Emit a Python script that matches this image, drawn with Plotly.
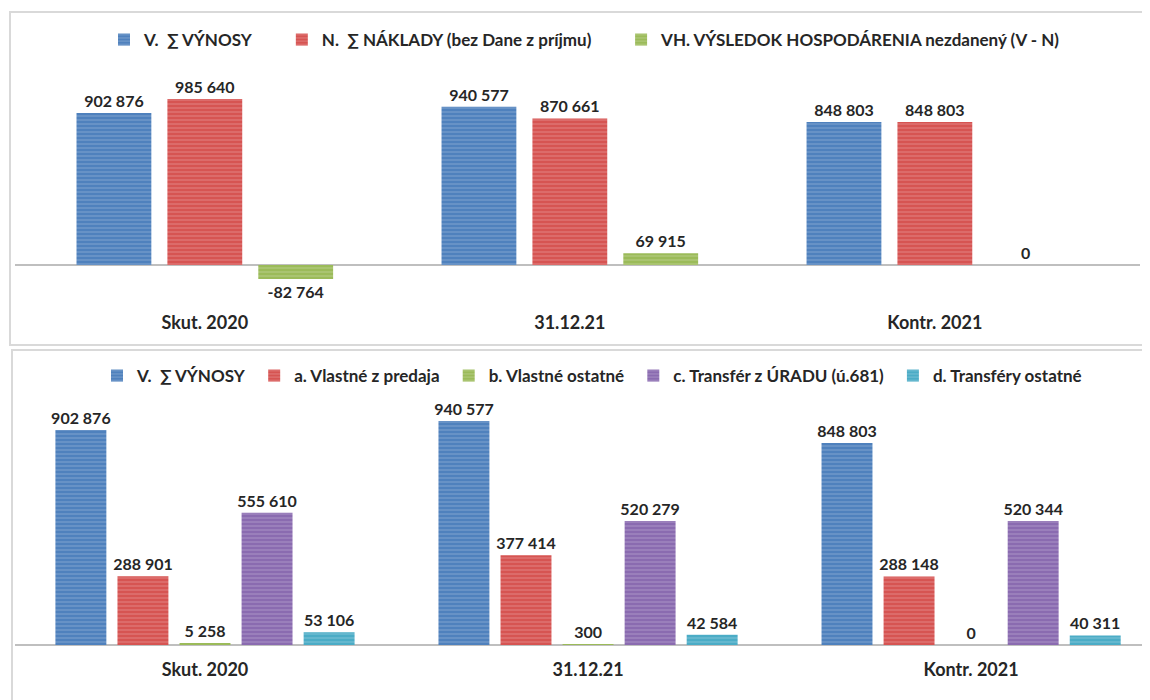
import plotly.graph_objects as go
from plotly.subplots import make_subplots

# categories
periods = ['Skut. 2020', '31.12.21', 'Kontr. 2021']

# top chart series
vynosy = [902876, 940577, 848803]
naklady = [985640, 870661, 848803]
vysledok = [-82764, 69915, 0]

# bottom chart series
vlastne_predaj = [288901, 377414, 288148]
vlastne_ostatne = [5258, 300, 0]
transfer_urad = [555610, 520279, 520344]
transfery_ostatne = [53106, 42584, 40311]

top_names = ['V.  \u2211 V\u00ddNOSY', 'N.  \u2211 N\u00c1KLADY (bez Dane z pr\u00edjmu)',
             'VH. V\u00ddSLEDOK HOSPOD\u00c1RENIA nezdanen\u00fd (V - N)']
bottom_names = ['V.  \u2211 V\u00ddNOSY', 'a. Vlastn\u00e9 z predaja', 'b. Vlastn\u00e9 ostatn\u00e9',
                'c. Transf\u00e9r z \u00daRADU (\u00fa.681)', 'd. Transf\u00e9ry ostatn\u00e9']

blue = '#4f81bd'
red = '#d65452'
green = '#9bbb59'
purple = '#8a6bb0'
cyan = '#4bacc6'

FONT = 'Lato, Open Sans, sans-serif'
TXT = '#262626'

# the page puts the plot 8px in from the window corner, shift everything back
OFF = 8
W, H = 1150, 700


def px_x(p):
    return (p - OFF) / W


def px_y(p):
    return (H - (p - OFF)) / H


fig = make_subplots(rows=2, cols=1)


def add_bars(values, names, colors, row, width, pitch, legend, pad):
    n = len(values)
    start = -n / 2 * pitch + (pitch - width) / 2
    for i, (vals, name, col) in enumerate(zip(values, names, colors)):
        fig.add_trace(go.Bar(
            x=periods, y=vals, name=name + '\u00a0' * pad + '\u200b',
            width=width, offset=start + i * pitch,
            marker=dict(color=col, line=dict(width=0),
                        pattern=dict(shape='-', fgcolor='rgba(255,255,255,0.55)',
                                     size=4, solidity=0.25)),
            texttemplate='%{y:,.0f}', textposition='outside', cliponaxis=False,
            constraintext='none',
            textfont=dict(family=FONT, size=16, color=TXT, weight='bold'),
            legend=legend,
        ), row=row, col=1)


add_bars([vynosy, naklady, vysledok], top_names, [blue, red, green], 1, 0.205, 0.249, 'legend', 6)
add_bars([vynosy, vlastne_predaj, vlastne_ostatne, transfer_urad, transfery_ostatne],
         bottom_names, [blue, red, green, purple, cyan], 2, 0.133, 0.162, 'legend2', 1)

axis_font = dict(family=FONT, size=18, color=TXT, weight='bold')
legend_font = dict(family=FONT, size=17, color=TXT, weight='bold')

fig.update_layout(
    width=W, height=H,
    margin=dict(l=0, r=0, t=0, b=0, autoexpand=False),
    paper_bgcolor='white', plot_bgcolor='white',
    barmode='overlay', separators=', ',
    showlegend=True,
    xaxis=dict(domain=[px_x(15), px_x(1140)], range=[-0.52, 2.562], showgrid=False,
               showline=False, ticks='', tickfont=axis_font, automargin=False,
               ticklabelstandoff=5),
    yaxis=dict(domain=[px_y(305), px_y(70)], range=[-237600, 1158300], showgrid=False,
               showticklabels=False, zeroline=True, zerolinecolor='#bfbfbf', zerolinewidth=2,
               automargin=False),
    xaxis2=dict(domain=[px_x(15), px_x(1150)], range=[-0.496, 2.467], showgrid=False,
                showline=False, ticks='', tickfont=axis_font, automargin=False,
                ticklabelstandoff=5),
    yaxis2=dict(domain=[px_y(652), px_y(400)], range=[-29400, 1029000], showgrid=False,
                showticklabels=False, zeroline=True, zerolinecolor='#bfbfbf', zerolinewidth=2,
                automargin=False),
    legend=dict(orientation='h', x=px_x(597), xanchor='center', y=px_y(40), yanchor='middle',
                font=legend_font, itemwidth=30, bgcolor='rgba(0,0,0,0)'),
    legend2=dict(orientation='h', x=px_x(594), xanchor='center', y=px_y(376), yanchor='middle',
                 font=legend_font, itemwidth=30, bgcolor='rgba(0,0,0,0)'),
    shapes=[
        dict(type='rect', xref='paper', yref='paper', x0=px_x(10), x1=1.01,
             y0=px_y(345), y1=px_y(12), line=dict(color='#d9d9d9', width=2)),
        dict(type='rect', xref='paper', yref='paper', x0=px_x(12), x1=1.01,
             y0=-0.01, y1=px_y(350), line=dict(color='#d9d9d9', width=2)),
    ],
)

fig.write_html('out.html')
